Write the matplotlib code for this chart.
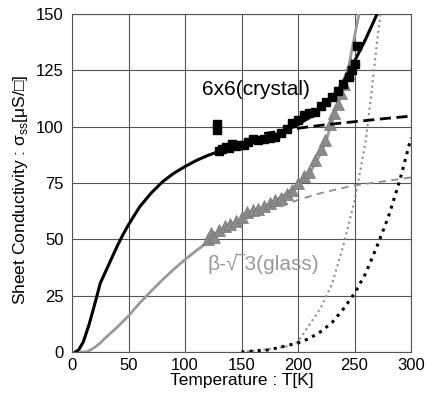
import matplotlib
matplotlib.use("Agg")
import matplotlib.pyplot as plt

plt.rcParams["font.family"] = ["Liberation Sans", "DejaVu Sans"]
plt.rcParams["mathtext.fontset"] = "custom"
plt.rcParams["mathtext.rm"] = "Liberation Sans"

# 6x6 (crystal) fit: total, metallic (dashed), activated (dotted)
cry_fit_T = [3, 6, 10, 15, 20, 25, 30, 35, 40, 45, 50, 55, 60, 70, 80, 90, 100, 110, 120, 130,
             140, 150, 160, 170, 180, 190, 200, 210, 220, 230, 240, 250, 260, 270, 273]
cry_fit_s = [0, 1, 4.5, 12, 21, 30.5, 36, 41.5, 47, 52, 56.5, 60.5, 64.5, 70.5, 75.5, 79.3, 82.3, 85, 87.2, 89,
             90.5, 92, 93.5, 95, 96.5, 98.5, 101, 104, 108, 113, 119.5, 129, 139, 150, 153]
cry_met_T = [170, 185, 200, 225, 250, 275, 300]
cry_met_s = [97, 98, 99.3, 100.9, 102.2, 103.5, 104.7]
cry_act_T = [150, 175, 200, 210, 220, 230, 240, 250, 260, 270, 280, 290, 300]
cry_act_s = [0, 1, 4, 6, 9, 13, 19, 26, 35, 47, 60, 76, 95]

# 6x6 (crystal) measured
cry_T = [128, 128.5, 130, 133, 136, 139, 142, 145, 148, 152, 156, 160, 165, 170, 175, 180,
         185, 190, 195, 200, 205, 210, 215, 220, 225, 230, 235, 240, 245, 248, 250, 252]
cry_s = [101, 98.5, 89, 90, 91, 90.5, 92.5, 91.5, 92, 92, 93, 94.5, 94, 94.5, 95, 95.5,
         97, 99, 101.5, 103, 105, 106, 106.5, 109, 111, 113, 116, 119, 122, 125, 128, 136]

# beta-sqrt3 (glass) fit
gl_fit_T = [8, 12, 15, 20, 25, 30, 40, 50, 60, 70, 80, 90, 100, 110, 120, 130, 140, 150,
            160, 170, 180, 190, 200, 210, 220, 225, 230, 235, 240, 245, 250, 254]
gl_fit_s = [0, 0, 0.5, 2, 4, 6.5, 11, 16, 21.8, 27, 32, 36.7, 41, 45, 48.7, 52, 55.2, 58.2,
            61.2, 64.2, 67.2, 70.5, 74, 79, 88, 94, 102, 110, 117, 127, 140, 150]
gl_met_T = [185, 200, 220, 250, 280, 300]
gl_met_s = [64.5, 67.5, 70.5, 74, 76, 77.5]
gl_act_T = [150, 170, 190, 200, 210, 220, 230, 240, 250, 255, 260, 265, 270, 273]
gl_act_s = [0, 1, 2.5, 4.5, 12, 19.5, 30, 47, 67, 80, 94, 115, 138, 150]

# beta-sqrt3 (glass) measured
gl_T = [120, 123, 126, 130, 135, 140, 145, 150, 155, 160, 165, 170, 175, 180, 185, 190,
        195, 200, 205, 210, 215, 220, 224, 228, 232, 235, 238, 241, 244, 247]
gl_s = [50, 53, 51, 54, 56, 57, 58, 60, 62, 63, 63.5, 65, 66, 67.5, 68.5, 70,
        72, 75, 78, 80, 85, 90, 94, 101, 106, 110, 115, 119, 124, 128]

fig = plt.figure(figsize=(4.26, 4.03), dpi=100)
ax = fig.add_axes([72 / 426, 51 / 403, 339 / 426, 338 / 403])

ax.plot(gl_fit_T, gl_fit_s, color="#9a9a9a", lw=2, zorder=3)
ax.plot(gl_met_T, gl_met_s, color="#8c8c8c", lw=1.3, ls=(0, (4, 3)), zorder=3)
ax.plot(gl_act_T, gl_act_s, color="#8c8c8c", lw=1.5, ls=":", zorder=3)
ax.plot(gl_T, gl_s, "^", color="#8a8a8a", ms=8, mec="#777777", mew=0.5, zorder=4)

ax.plot(cry_fit_T, cry_fit_s, color="black", lw=2.2, zorder=5)
ax.plot(cry_met_T, cry_met_s, color="black", lw=2, ls=(0, (4, 2)), zorder=5)
ax.plot(cry_act_T, cry_act_s, color="black", lw=2.2, ls=":", zorder=5)
ax.plot(cry_T, cry_s, "s", color="black", ms=6, zorder=6)

ax.text(163, 116.3, "6x6(crystal)", fontsize=15, ha="center", va="center", zorder=7)
ax.text(169.5, 39, "β-√\u203e3(glass)", fontsize=15, color="#999999",
        ha="center", va="center", zorder=7)

ax.set_xlim(0, 300)
ax.set_ylim(0, 150)
ax.set_xticks(range(0, 301, 50))
ax.set_yticks(range(0, 151, 25))
ax.grid(True, color="#555555", lw=0.8)
ax.set_axisbelow(True)
for sp in ax.spines.values():
    sp.set_color("#555555")
    sp.set_linewidth(0.8)
ax.tick_params(axis="both", length=0, labelsize=12)
ax.tick_params(axis="y", pad=6)
ax.tick_params(axis="x", pad=4)
ax.set_xlabel("Temperature : T[K]", fontsize=12.5, labelpad=0.5)
ax.set_ylabel(r"Sheet Conductivity : σ$_{\mathrm{ss}}$[μS/□]", fontsize=12.5)
ax.yaxis.set_label_coords(-0.125, 0.48)

fig.savefig("out.png", dpi=100)
